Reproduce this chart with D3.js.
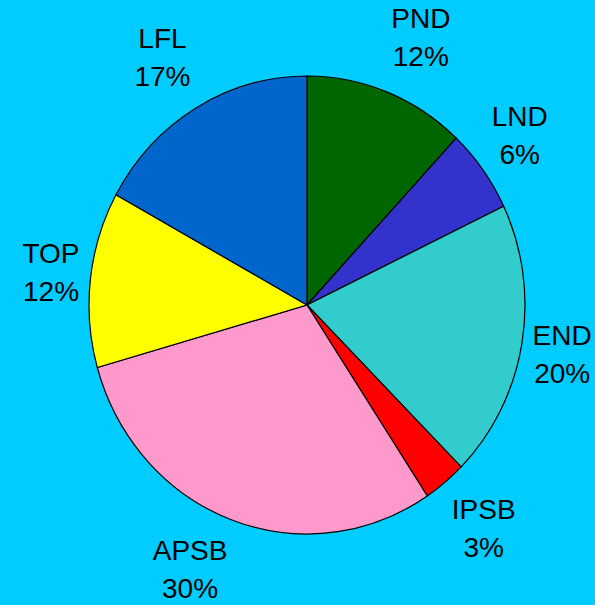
<!DOCTYPE html>
<html>
<head>
<meta charset="utf-8">
<script src="https://cdn.jsdelivr.net/npm/d3@7"></script>
<style>
  html, body { margin: 0; padding: 0; background: #00CCFF; }
  svg { display: block; }
  text { font-family: "Liberation Sans", Arial, sans-serif; font-size: 28px; fill: #000; }
</style>
</head>
<body>
<svg id="grafico"></svg>
<script>
// Dados do gráfico (fatias em %; rótulos arredondados)
const categorias = ["PND", "LND", "END", "IPSB", "APSB", "TOP", "LFL"];
const valores = [12.0, 5.9, 19.6, 3.2, 29.9, 12.4, 17.0];
const cores = ["#006600", "#3333CC", "#33CCCC", "#FF0000", "#FF99CC", "#FFFF00", "#0066CC"];

const width = 595, height = 605;
const cx = 307, cy = 305;
const raio = 218;          // raio horizontal
const esticar = 229 / 218; // a pizza é levemente esticada na vertical

const svg = d3.select("#grafico")
  .attr("width", width)
  .attr("height", height);

svg.append("rect")
  .attr("width", width)
  .attr("height", height)
  .attr("fill", "#00CCFF");

const pie = d3.pie().sort(null).value(d => d);
const arcos = pie(valores);
const arc = d3.arc().innerRadius(0).outerRadius(raio);

const g = svg.append("g")
  .attr("transform", `translate(${cx},${cy}) scale(1,${esticar})`);

g.selectAll("path")
  .data(arcos)
  .enter()
  .append("path")
  .attr("d", arc)
  .attr("fill", (d, i) => cores[i])
  .attr("stroke", "#000")
  .attr("stroke-width", 1.2)
  .attr("vector-effect", "non-scaling-stroke");

// Rótulos fora da borda (estilo "extremidade externa" do Excel)
const fator = 1.05;
const entreLinhas = 38;
const alturaMaiuscula = 28 * 0.716;
const meiaCaixa = 48; // meia altura da caixa de texto (com margens)

const rotulos = svg.append("g");
arcos.forEach((d, i) => {
  const ang = (d.startAngle + d.endAngle) / 2;
  const s = Math.sin(ang), c = Math.cos(ang);

  const t = rotulos.append("text").attr("text-anchor", "middle");
  const l1 = t.append("tspan").text(categorias[i]);
  const l2 = t.append("tspan").text(Math.round(valores[i]) + "%");

  const larg = Math.max(l1.node().getComputedTextLength(), l2.node().getComputedTextLength());

  // ponto fora da borda, depois a caixa encosta nele
  const px = cx + s * raio * fator + Math.sign(s) * larg / 2;
  const py = cy - c * raio * esticar * fator - c * meiaCaixa;

  let base1 = py - (alturaMaiuscula + entreLinhas) / 2 + alturaMaiuscula;
  // não deixa o rótulo sair pela borda de baixo
  base1 = Math.min(base1, height - 7 - entreLinhas);
  l1.attr("x", px).attr("y", base1);
  l2.attr("x", px).attr("y", base1 + entreLinhas);
});
</script>
</body>
</html>
